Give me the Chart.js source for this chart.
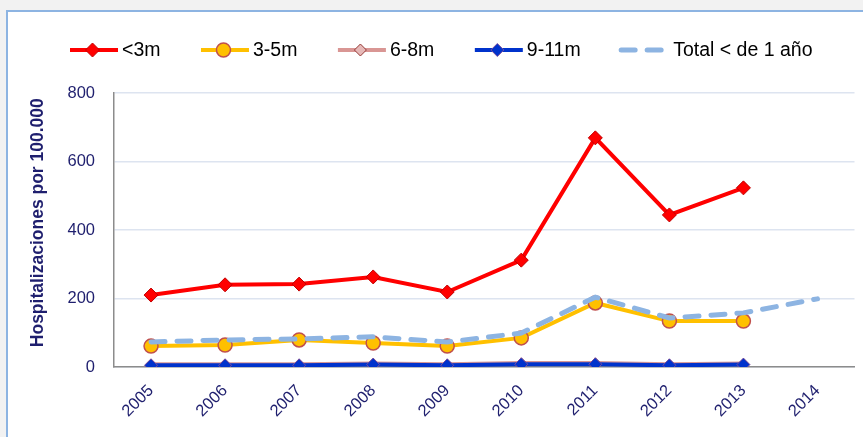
<!DOCTYPE html>
<html>
<head>
<meta charset="utf-8">
<script src="https://cdn.jsdelivr.net/npm/chart.js@4.4.1/dist/chart.umd.min.js"></script>
<style>
    html, body { margin: 0; padding: 0; background: #f2f2f2; overflow: hidden; }
    .box {
        position: absolute; left: 6px; top: 10px; width: 880px; height: 450px;
        background: #fff; border: 2px solid #8db4e2; box-sizing: border-box;
    }
    #chart { position: absolute; left: 8px; top: 12px; }
</style>
</head>
<body>
<div class="box"></div>
<canvas id="chart" width="855" height="425"></canvas>
<script>
// Data
const years = ['2005', '2006', '2007', '2008', '2009', '2010', '2011', '2012', '2013', '2014'];
const lessThan3m = [210, 240, 242, 263, 219, 312, 669, 444, 523, null];
const from3to5m = [61, 64, 79, 70, 61, 85, 187, 134, 134, null];
const from6to8m = [8, 8, 8, 10, 8, 12, 12, 8, 10, null];
const from9to11m = [5, 5, 5, 7, 5, 8, 8, 5, 7, null];
const totalUnder1 = [73, 79, 82, 88, 73, 99, 204, 143, 158, 199];
const yTicks = [0, 200, 400, 600, 800];

const navy = '#1f1f6e';
const font = "'Liberation Sans', Arial, sans-serif";

// Legend with line + marker, drawn on the canvas
const lineLegend = {
    id: 'lineLegend',
    afterDraw(chart) {
        const ctx = chart.ctx;
        let x = 59;
        const y = 38;
        ctx.save();
        ctx.font = '19.5px ' + font;
        ctx.textBaseline = 'middle';
        chart.data.datasets.forEach(ds => {
            const len = 51;
            const r = ds.legendRadius || ds.pointRadius;
            ctx.beginPath();
            ctx.lineWidth = ds.borderWidth;
            ctx.strokeStyle = ds.borderColor;
            ctx.lineCap = ds.borderDash ? 'round' : 'butt';
            ctx.setLineDash(ds.borderDash || []);
            ctx.moveTo(x + 3, y);
            ctx.lineTo(x + len, y);
            ctx.stroke();
            ctx.setLineDash([]);
            if (r > 0) {
                const cx = x + len / 2;
                ctx.beginPath();
                if (ds.pointStyle === 'circle') {
                    ctx.arc(cx, y, r, 0, Math.PI * 2);
                } else {
                    ctx.moveTo(cx, y - r);
                    ctx.lineTo(cx + r, y);
                    ctx.lineTo(cx, y + r);
                    ctx.lineTo(cx - r, y);
                    ctx.closePath();
                }
                ctx.fillStyle = ds.pointBackgroundColor;
                ctx.fill();
                ctx.lineWidth = ds.pointBorderWidth;
                ctx.strokeStyle = ds.pointBorderColor;
                ctx.stroke();
            }
            ctx.fillStyle = '#000';
            ctx.fillText(ds.label, x + len + 4, y + 1);
            x += len + 4 + ctx.measureText(ds.label).width + 37.5;
        });
        ctx.restore();
    }
};

const ctx = document.getElementById('chart').getContext('2d');

new Chart(ctx, {
    type: 'line',
    data: {
        labels: years,
        datasets: [{
            label: '<3m',
            data: lessThan3m,
            borderColor: '#ff0000',
            borderWidth: 4,
            pointStyle: 'rectRot',
            pointRadius: 7,
            pointBackgroundColor: '#ff0000',
            pointBorderColor: '#c00000',
            pointBorderWidth: 1,
            order: 0
        }, {
            label: '3-5m',
            data: from3to5m,
            borderColor: '#ffc000',
            borderWidth: 4,
            pointStyle: 'circle',
            pointRadius: 7,
            pointBackgroundColor: '#ffc000',
            pointBorderColor: '#c0504d',
            pointBorderWidth: 1.5,
            order: 2
        }, {
            label: '6-8m',
            data: from6to8m,
            borderColor: '#d99694',
            borderWidth: 4,
            pointStyle: 'rectRot',
            pointRadius: 5,
            legendRadius: 6,
            pointBackgroundColor: '#e6b9b8',
            pointBorderColor: '#953735',
            pointBorderWidth: 1,
            order: 4
        }, {
            label: '9-11m',
            data: from9to11m,
            borderColor: '#0033cc',
            borderWidth: 4,
            pointStyle: 'rectRot',
            pointRadius: 6.5,
            pointBackgroundColor: '#0033cc',
            pointBorderColor: '#7a4f9e',
            pointBorderWidth: 1,
            order: 3
        }, {
            label: 'Total < de 1 año',
            data: totalUnder1,
            borderColor: '#8db4e2',
            borderWidth: 5,
            borderDash: [14, 12],
            borderCapStyle: 'round',
            pointRadius: 0,
            order: 1
        }]
    },
    options: {
        responsive: false,
        animation: false,
        layout: { padding: { top: 81, right: 6, left: 0, bottom: 0 } },
        plugins: {
            legend: { display: false },
            tooltip: { enabled: false }
        },
        scales: {
            x: {
                offset: true,
                grid: { display: false, drawTicks: false },
                border: { color: '#8c8c8c', width: 1.5 },
                ticks: {
                    color: navy,
                    font: { size: 16.5, family: font },
                    minRotation: 45,
                    maxRotation: 45,
                    padding: 14
                },
                afterFit(scale) { scale.height = 70; }
            },
            y: {
                min: 0,
                max: 800,
                afterBuildTicks(scale) { scale.ticks = yTicks.map(v => ({ value: v })); },
                grid: { color: '#dde4f0', lineWidth: 1.5, drawTicks: false },
                border: { color: '#8c8c8c', width: 1.5 },
                ticks: {
                    color: navy,
                    font: { size: 16.5, family: font },
                    padding: 19
                },
                title: {
                    display: true,
                    text: '   Hospitalizaciones por 100.000',
                    color: navy,
                    font: { size: 17.5, weight: 'bold', family: font },
                    padding: { top: 20, bottom: 0 }
                },
                afterFit(scale) { scale.width = 106; }
            }
        }
    },
    plugins: [lineLegend]
});
</script>
</body>
</html>
